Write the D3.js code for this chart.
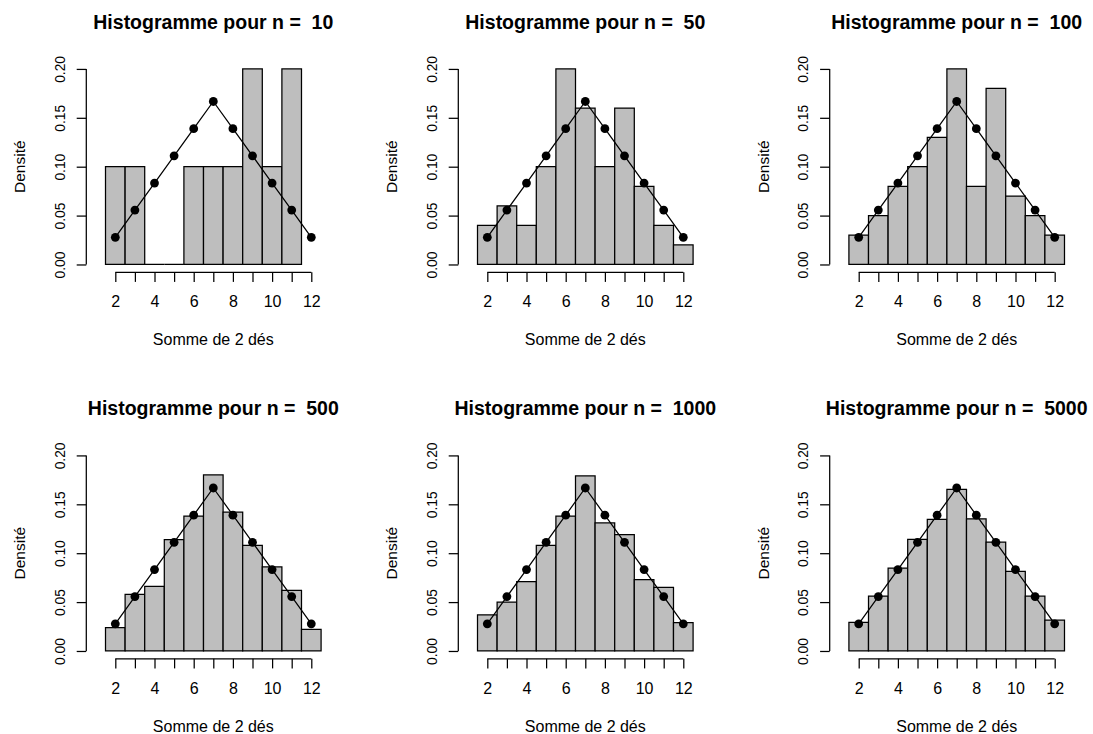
<!DOCTYPE html>
<html>
<head>
<meta charset="utf-8">
<script src="https://cdn.jsdelivr.net/npm/d3@7"></script>
<style>
  html, body { margin: 0; padding: 0; background: #ffffff; }
  svg { display: block; font-family: "Liberation Sans", Arial, Helvetica, sans-serif; }
  text { fill: #000; }
</style>
</head>
<body>
<script>
// Sums of two dice (bin centres, unit-wide bins)
const sums = [2, 3, 4, 5, 6, 7, 8, 9, 10, 11, 12];
const sums10 = [2, 3, 4, 5, 6, 7, 8, 9, 10, 11];

// Sample sizes of the simulations
const sampleSizes = [10, 50, 100, 500, 1000, 5000];

// Observed densities for each simulation
const dens10   = [0.10, 0.10, 0.00, 0.00, 0.10, 0.10, 0.10, 0.20, 0.10, 0.20];
const dens50   = [0.04, 0.06, 0.04, 0.10, 0.20, 0.16, 0.10, 0.16, 0.08, 0.04, 0.02];
const dens100  = [0.03, 0.05, 0.08, 0.10, 0.13, 0.20, 0.08, 0.18, 0.07, 0.05, 0.03];
const dens500  = [0.024, 0.058, 0.066, 0.114, 0.138, 0.180, 0.142, 0.108, 0.086, 0.062, 0.022];
const dens1000 = [0.037, 0.050, 0.071, 0.108, 0.138, 0.179, 0.131, 0.119, 0.073, 0.065, 0.029];
const dens5000 = [0.0292, 0.0562, 0.0848, 0.1142, 0.1346, 0.1654, 0.1352, 0.1114, 0.0814, 0.0560, 0.0316];

// Theoretical probabilities of the sum of two fair dice
const theory = [0.0278, 0.0556, 0.0833, 0.1111, 0.1389, 0.1667, 0.1389, 0.1111, 0.0833, 0.0556, 0.0278];

// Axis ticks and labels
const xTicks = [2, 3, 4, 5, 6, 7, 8, 9, 10, 11, 12];
const xTickLabels = ["2", "", "4", "", "6", "", "8", "", "10", "", "12"];
const yTicks = [0, 0.05, 0.10, 0.15, 0.20];
const yTickLabels = ["0.00", "0.05", "0.10", "0.15", "0.20"];

const xLabel = "Somme de 2 dés";
const yLabel = "Densité";
const titlePrefix = "Histogramme pour n = ";

const panels = [
  { n: sampleSizes[0], x: sums10, d: dens10 },
  { n: sampleSizes[1], x: sums,   d: dens50 },
  { n: sampleSizes[2], x: sums,   d: dens100 },
  { n: sampleSizes[3], x: sums,   d: dens500 },
  { n: sampleSizes[4], x: sums,   d: dens1000 },
  { n: sampleSizes[5], x: sums,   d: dens5000 }
];

// Layout of the 2 x 3 grid
const W = 1093, H = 734;
const colLeft = [86.3, 458.3, 829.7];
const rowBottom = [272.3, 658.8];
const plotW = 254;
const plotH = 211.2;
const tickLen = 9.6;
const lw = 1.25;
const FONT = "Liberation Sans, Arial, sans-serif";

const svg = d3.select("body").append("svg")
  .attr("width", W).attr("height", H);

svg.append("rect").attr("width", W).attr("height", H).attr("fill", "#ffffff");

panels.forEach((p, i) => {
  const left = colLeft[i % 3];
  const bottom = rowBottom[Math.floor(i / 3)];

  const x = d3.scaleLinear().domain([0.52, 13.48]).range([left, left + plotW]);
  const y = d3.scaleLinear().domain([-0.008, 0.208]).range([bottom, bottom - plotH]);

  const g = svg.append("g");

  // Histogram bars (paths so that empty bins still show their base line)
  g.selectAll("path.bar").data(p.x.map((s, k) => ({ s, v: p.d[k] })))
    .join("path")
    .attr("class", "bar")
    .attr("d", b => {
      const x0 = x(b.s - 0.5), x1 = x(b.s + 0.5), y0 = y(0), y1 = y(b.v);
      return `M${x0},${y0}V${y1}H${x1}V${y0}Z`;
    })
    .attr("fill", "#bebebe")
    .attr("stroke", "#000")
    .attr("stroke-width", lw);

  // Theoretical distribution: line and points
  const pts = sums.map((s, k) => [s, theory[k]]);
  g.append("path")
    .attr("d", d3.line().x(d => x(d[0])).y(d => y(d[1]))(pts))
    .attr("fill", "none")
    .attr("stroke", "#000")
    .attr("stroke-width", lw);
  g.selectAll("circle").data(pts).join("circle")
    .attr("cx", d => x(d[0])).attr("cy", d => y(d[1]))
    .attr("r", 4.4).attr("fill", "#000");

  // x axis
  const xAxis = d3.axisBottom(x)
    .tickValues(xTicks)
    .tickFormat((d, k) => xTickLabels[k])
    .tickSize(tickLen)
    .tickSizeOuter(0)
    .tickPadding(13.8);
  const gx = g.append("g").attr("transform", `translate(0,${bottom})`).call(xAxis);
  gx.select(".domain").attr("d", `M${x(xTicks[0])},0H${x(xTicks[xTicks.length - 1])}`);
  gx.selectAll("line, path").attr("stroke", "#000").attr("stroke-width", lw);
  gx.selectAll("text").attr("font-size", 16).attr("fill", "#000")
    .attr("font-family", FONT);

  // y axis with rotated labels
  const yAxis = d3.axisLeft(y)
    .tickValues(yTicks)
    .tickFormat((d, k) => yTickLabels[k])
    .tickSize(tickLen)
    .tickSizeOuter(0);
  const gy = g.append("g").attr("transform", `translate(${left},0)`).call(yAxis);
  gy.select(".domain").attr("d", `M0,${y(yTicks[0])}V${y(yTicks[yTicks.length - 1])}`);
  gy.selectAll("line, path").attr("stroke", "#000").attr("stroke-width", lw);
  gy.selectAll("text")
    .attr("x", null).attr("dy", null)
    .attr("text-anchor", "middle")
    .attr("transform", "translate(-21.3,0) rotate(-90)")
    .attr("font-size", 13.8).attr("fill", "#000")
    .attr("font-family", FONT);

  // Axis titles
  const cx = left + plotW / 2;
  const cy = bottom - plotH / 2;
  g.append("text")
    .attr("x", cx).attr("y", bottom + 72.7)
    .attr("text-anchor", "middle").attr("font-size", 16)
    .text(xLabel);
  g.append("text")
    .attr("transform", `translate(${left - 61.2},${cy}) rotate(-90)`)
    .attr("text-anchor", "middle").attr("font-size", 15.5)
    .text(yLabel);

  // Panel title
  g.append("text")
    .attr("x", cx).attr("y", bottom - plotH - 32.5)
    .attr("text-anchor", "middle")
    .attr("font-size", 19.5).attr("font-weight", "bold")
    .style("white-space", "pre")
    .text(titlePrefix + " " + p.n);
});
</script>
</body>
</html>
